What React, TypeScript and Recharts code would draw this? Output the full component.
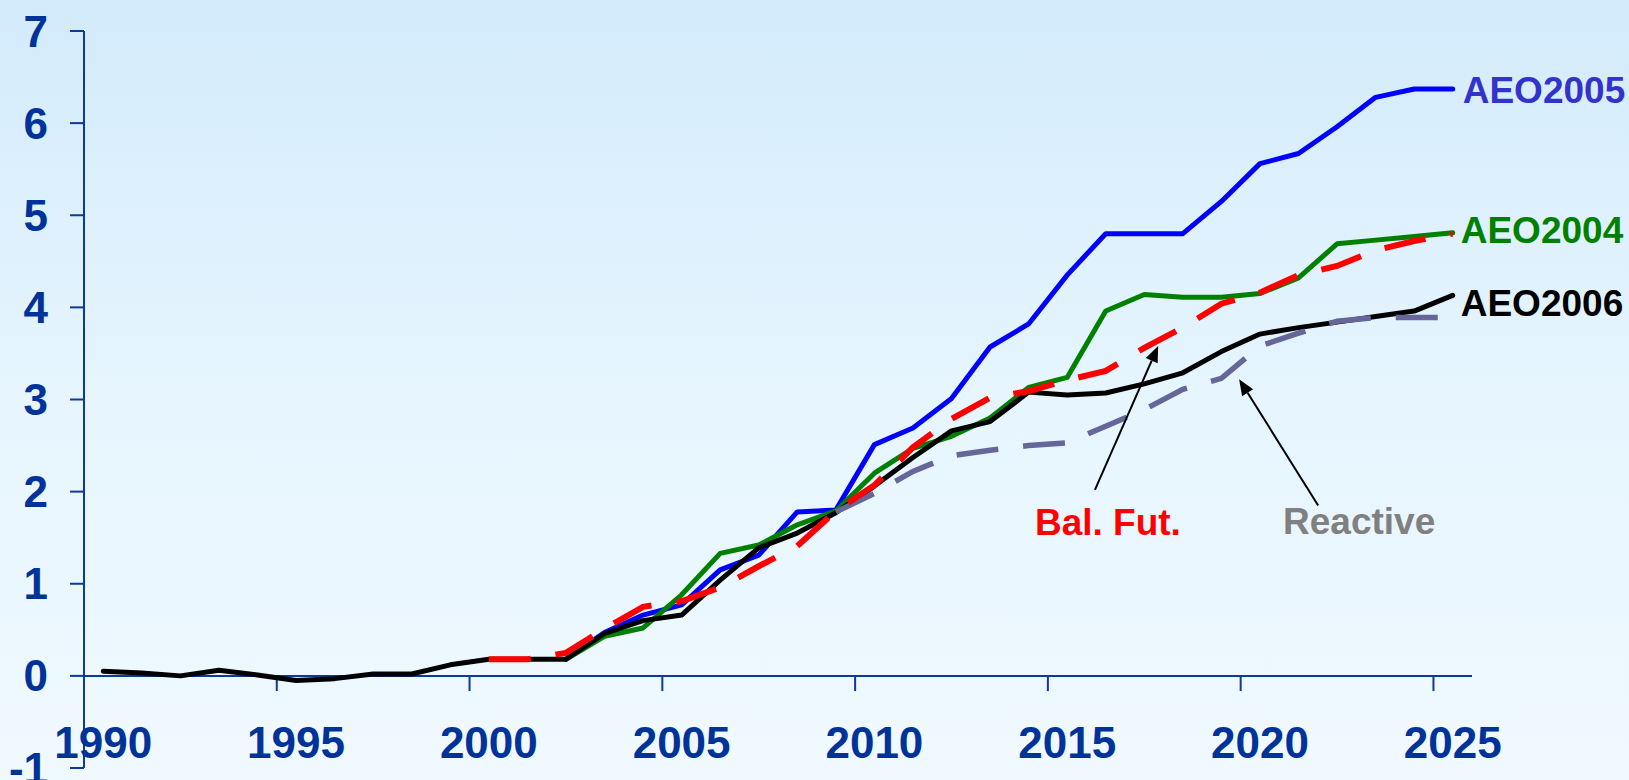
import React from 'react';
import { LineChart, Line, XAxis, YAxis, ReferenceLine } from 'recharts';

const years = [
  1990, 1991, 1992, 1993, 1994, 1995, 1996, 1997, 1998, 1999,
  2000, 2001, 2002, 2003, 2004, 2005, 2006, 2007, 2008, 2009,
  2010, 2011, 2012, 2013, 2014, 2015, 2016, 2017, 2018, 2019,
  2020, 2021, 2022, 2023, 2024, 2025,
];

const aeo2006 = [
  0.05, 0.03, 0.0, 0.06, 0.01, -0.05, -0.03, 0.02, 0.02, 0.12,
  0.18, 0.18, 0.18, 0.46, 0.6, 0.66, 1.04, 1.39, 1.55, 1.77,
  2.06, 2.37, 2.66, 2.76, 3.08, 3.05, 3.07, 3.17, 3.29, 3.52,
  3.71, 3.78, 3.84, 3.9, 3.96, 4.13,
];

const aeo2005 = [
  null, null, null, null, null, null, null, null, null, null,
  null, null, 0.18, 0.47, 0.66, 0.77, 1.15, 1.31, 1.78, 1.8,
  2.51, 2.69, 3.01, 3.57, 3.82, 4.35, 4.8, 4.8, 4.8, 5.15,
  5.56, 5.67, 5.96, 6.28, 6.37, 6.37,
];

const aeo2004 = [
  null, null, null, null, null, null, null, null, null, null,
  null, null, 0.18, 0.43, 0.52, 0.88, 1.33, 1.42, 1.64, 1.79,
  2.2, 2.47, 2.6, 2.8, 3.13, 3.24, 3.96, 4.14, 4.11, 4.11,
  4.15, 4.32, 4.69, 4.73, 4.77, 4.81,
];

const balFut = [
  null, null, null, null, null, null, null, null, null, null,
  0.18, 0.18, 0.25, 0.51, 0.75, 0.81, 0.96, 1.19, 1.41, 1.79,
  2.07, 2.48, 2.79, 3.02, 3.09, 3.21, 3.31, 3.56, 3.78, 4.04,
  4.16, 4.35, 4.45, 4.62, 4.72, 4.8,
];

const reactive = [
  null, null, null, null, null, null, null, null, null, null,
  null, null, null, null, null, null, null, null, null, 1.78,
  1.98, 2.22, 2.39, 2.45, 2.5, 2.53, 2.71, 2.89, 3.11, 3.23,
  3.58, 3.72, 3.85, 3.89, 3.89, 3.89,
];

const xLabelYears = [1990, 1995, 2000, 2005, 2010, 2015, 2020, 2025];
const xTickMarks = [1994.5, 1999.5, 2004.5, 2009.5, 2014.5, 2019.5, 2024.5];
const yTicks = [-1, 0, 1, 2, 3, 4, 5, 6, 7];

const balFutArrow = [{ x: 2015.72, y: 2.02 }, { x: 2017.36, y: 3.58 }];
const reactiveArrow = [{ x: 2021.51, y: 1.85 }, { x: 2019.46, y: 3.22 }];

const data = years.map((year, i) => ({
  year,
  aeo2004: aeo2004[i],
  aeo2005: aeo2005[i],
  aeo2006: aeo2006[i],
  balFut: balFut[i],
  reactive: reactive[i],
}));

const FONT = '"Liberation Sans", Arial, Helvetica, sans-serif';
const AXIS = '#0b3a9c';
const LABEL = '#003399';

const XTick = (props: any) => (
  <text
    x={props.x}
    y={758}
    textAnchor="middle"
    fontSize={44}
    fontWeight="bold"
    fill={LABEL}
    fontFamily={FONT}
  >
    {props.payload.value}
  </text>
);

const endLabel = (text: string, color: string, dx: number, dy: number) => (props: any) => {
  if (props.index !== years.length - 1) return null;
  return (
    <text
      x={Number(props.x) + dx}
      y={Number(props.y) + dy}
      fill={color}
      fontSize={37}
      fontWeight="bold"
      fontFamily={FONT}
      textAnchor="start"
    >
      {text}
    </text>
  );
};

const arrowShape = (text: string, color: string, tdx: number, tdy: number) => (props: any) => {
  const { x1, y1, x2, y2 } = props;
  const ang = Math.atan2(y2 - y1, x2 - x1);
  const L = 16;
  const W = 6.5;
  const bx = x2 - L * Math.cos(ang);
  const by = y2 - L * Math.sin(ang);
  const px = -Math.sin(ang) * W;
  const py = Math.cos(ang) * W;
  return (
    <g>
      <line x1={x1} y1={y1} x2={bx} y2={by} stroke="#000" strokeWidth={2} />
      <polygon points={`${x2},${y2} ${bx + px},${by + py} ${bx - px},${by - py}`} fill="#000" />
      <text
        x={x1 + tdx}
        y={y1 + tdy}
        textAnchor="middle"
        fontSize={37}
        fontWeight="bold"
        fill={color}
        fontFamily={FONT}
      >
        {text}
      </text>
    </g>
  );
};

export default function App() {
  return (
    <div
      style={{
        position: 'absolute',
        left: 0,
        top: 0,
        width: 1629,
        height: 780,
        overflow: 'hidden',
        background: 'linear-gradient(to bottom, #d3ebfc 0%, #e6f5fe 50%, #f0f9ff 100%)',
      }}
    >
      <LineChart
        width={1629}
        height={780}
        data={data}
        margin={{ top: 31, right: 157, bottom: 0, left: 0 }}
      >
        <XAxis
          dataKey="year"
          type="number"
          domain={[1989.5, 2025.5]}
          ticks={xLabelYears}
          interval={0}
          axisLine={false}
          tickLine={false}
          height={12}
          tick={<XTick />}
          allowDataOverflow
        />
        <YAxis
          type="number"
          domain={[-1, 7]}
          ticks={yTicks}
          interval={0}
          width={84}
          tickSize={14}
          tickMargin={22}
          axisLine={{ stroke: AXIS, strokeWidth: 2 }}
          tickLine={{ stroke: AXIS, strokeWidth: 2 }}
          tick={{ fontSize: 44, fontWeight: 'bold', fill: LABEL, fontFamily: FONT }}
          allowDataOverflow
        />
        <ReferenceLine y={0} stroke={AXIS} strokeWidth={2} />
        {xTickMarks.map((t) => (
          <ReferenceLine
            key={t}
            segment={[{ x: t, y: 0 }, { x: t, y: -0.165 }]}
            stroke={AXIS}
            strokeWidth={2}
          />
        ))}
        <Line
          dataKey="aeo2005"
          stroke="#0000ff"
          strokeWidth={5}
          dot={false}
          strokeLinecap="round"
          strokeLinejoin="round"
          isAnimationActive={false}
          label={endLabel('AEO2005', '#3333cc', 10, 13.5)}
        />
        <Line
          dataKey="aeo2004"
          stroke="#008000"
          strokeWidth={5}
          dot={false}
          strokeLinecap="round"
          strokeLinejoin="round"
          isAnimationActive={false}
          label={endLabel('AEO2004', '#008000', 8, 10)}
        />
        <Line
          dataKey="aeo2006"
          stroke="#000000"
          strokeWidth={5}
          dot={false}
          strokeLinecap="round"
          strokeLinejoin="round"
          isAnimationActive={false}
          label={endLabel('AEO2006', '#000000', 8, 21)}
        />
        <Line
          dataKey="reactive"
          stroke="#666699"
          strokeWidth={5.5}
          strokeDasharray="42 25"
          dot={false}
          strokeLinecap="butt"
          strokeLinejoin="miter"
          isAnimationActive={false}
        />
        <Line
          dataKey="balFut"
          stroke="#ff0000"
          strokeWidth={6}
          strokeDasharray="42 25"
          dot={false}
          strokeLinecap="butt"
          strokeLinejoin="miter"
          isAnimationActive={false}
        />
        <ReferenceLine segment={balFutArrow} shape={arrowShape('Bal. Fut.', '#ff0000', 13, 45)} />
        <ReferenceLine segment={reactiveArrow} shape={arrowShape('Reactive', '#808080', 41, 29)} />
      </LineChart>
    </div>
  );
}
